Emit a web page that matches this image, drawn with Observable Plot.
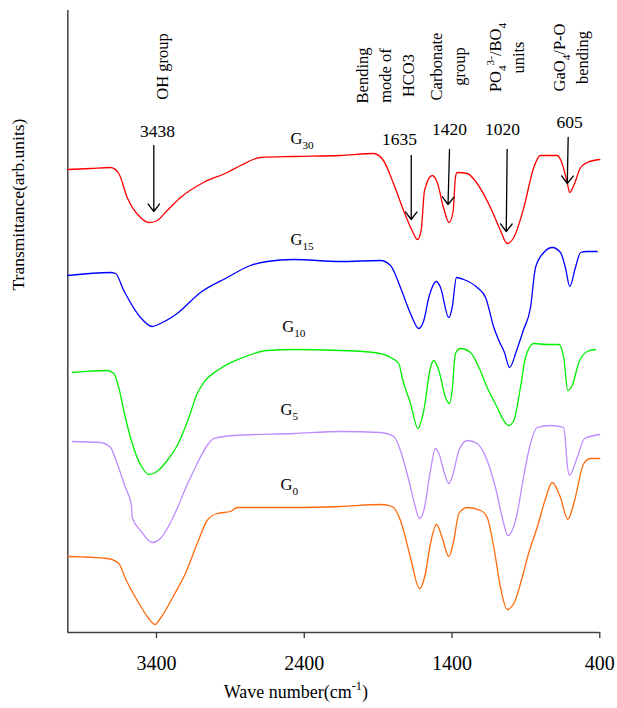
<!DOCTYPE html>
<html>
<head>
<meta charset="utf-8">
<script src="https://cdn.jsdelivr.net/npm/d3@7"></script>
<script src="https://cdn.jsdelivr.net/npm/@observablehq/plot@0.6"></script>
<style>
  html, body { margin: 0; padding: 0; background: white; }
</style>
</head>
<body>
<div id="chart"></div>
<script>
// ---- data (wavenumber cm^-1, transmittance a.u.) ----
const seriesNames = ["G30", "G15", "G10", "G5", "G0"];
const seriesColors = ["#ff0000", "#0000ff", "#00ee00", "#bf8cff", "#ff6a0e"];
const xTicks = [3400, 2400, 1400, 400];

const g30 = [[4000,463],[3846,464],[3711,465],[3655,459],[3598,435],[3508,415],[3452,410],[3407,411],[3327,422],[3237,435],[3082,450],[2921,460],[2831,467],[2696,475],[2473,476],[2155,477],[1931,479],[1864,472],[1796,449],[1728,422],[1670,402],[1634,393],[1609,402],[1586,442],[1534,457],[1500,450],[1458,425],[1420,410],[1392,422],[1377,455],[1365,460],[1297,459],[1230,449],[1140,425],[1072,402],[1027,389],[982,395],[914,425],[847,465],[802,477],[688,477],[655,469],[621,450],[603,440],[576,447],[530,465],[485,470],[400,473]];
const g15 = [[4000,357],[3711,360],[3677,359],[3621,342],[3508,315],[3429,306],[3374,309],[3260,319],[3102,340],[2921,355],[2764,367],[2651,371],[2473,373],[2155,371],[1884,372],[1816,367],[1749,345],[1681,319],[1625,304],[1591,312],[1557,335],[1505,351],[1478,345],[1422,315],[1399,325],[1370,355],[1320,353],[1230,345],[1173,335],[1117,305],[1083,292],[1045,280],[1011,265],[963,282],[918,302],[869,325],[835,365],[779,380],[722,385],[666,380],[633,365],[603,346],[565,365],[530,380],[485,381],[418,381]];
const g10 = [[3970,260],[3733,262],[3689,259],[3655,245],[3621,222],[3576,195],[3497,165],[3452,158],[3407,160],[3327,172],[3249,190],[3181,215],[3124,239],[3080,250],[2967,264],[2831,274],[2651,282],[2471,283],[2155,282],[1929,280],[1816,275],[1760,269],[1738,255],[1681,229],[1631,204],[1591,222],[1546,265],[1523,272],[1489,262],[1444,235],[1417,229],[1399,242],[1377,279],[1343,284],[1275,280],[1230,269],[1162,245],[1094,225],[1050,212],[1016,207],[982,212],[937,245],[903,275],[847,289],[756,288],[677,288],[644,275],[617,242],[587,247],[542,270],[485,281],[429,283]];
const g5 = [[3970,191],[3779,190],[3711,185],[3666,169],[3610,145],[3569,127],[3564,115],[3508,102],[3429,90],[3374,94],[3260,124],[3204,144],[3147,162],[3057,187],[3012,194],[2877,197],[2471,199],[2155,201],[1884,200],[1794,196],[1749,182],[1692,152],[1647,125],[1622,114],[1591,122],[1546,162],[1512,184],[1489,179],[1451,159],[1422,149],[1392,159],[1354,182],[1297,192],[1230,189],[1162,172],[1106,145],[1050,109],[1023,97],[959,119],[918,154],[869,189],[824,205],[733,207],[644,205],[633,192],[621,169],[605,157],[553,175],[503,194],[400,198]];
const g0 = [[4000,76],[3733,74],[3655,69],[3610,54],[3530,32],[3452,14],[3411,8],[3374,14],[3283,37],[3204,59],[3124,89],[3057,112],[2989,119],[2899,121],[2854,125],[2471,125],[2155,126],[1884,128],[1805,126],[1749,112],[1681,75],[1620,44],[1580,59],[1546,89],[1505,108],[1467,95],[1422,76],[1388,92],[1354,119],[1297,125],[1207,122],[1162,115],[1117,85],[1072,45],[1027,23],[982,29],[925,55],[880,80],[824,105],[767,134],[722,150],[666,135],[617,113],[576,129],[508,169],[463,174],[400,174]];

// series labels
const gLabels = ["G_{30}", "G_{15}", "G_{10}", "G_{5}", "G_{0}"];
const gLabelW = [2493, 2493, 2549, 2560, 2560];
const gLabelT = [494, 393, 306, 223, 148];

// peak annotations
const peakLabels = ["3438", "1635", "1420", "1020", "605"];
const peakLabelW = [3393, 1756, 1417, 1059, 605];
const peakLabelT = [501, 493, 503, 503, 510];
const arrowW1 = [3418, 1676, 1417, 1027, 614];
const arrowW2 = [3418, 1676, 1427, 1033, 620];
const arrowT1 = [487, 477, 483, 483, 495];
const arrowT2 = [421, 413, 428, 401, 449];

// band assignments
const groupLabels = ["OH group", "Bending\nmode of\nHCO3", "Carbonate\ngroup", "PO_{4}^{3-}/BO_{4}\nunits", "GaO_{4}/P-O\nbending"];
const groupW = [3373, 1864, 1441, 1038, 608];
const groupT = [566, 557, 566, 575, 575];

const yLabel = "Transmittance(arb.units)";
const xLabel = "Wave number(cm^{-1})";

// ---- build tables ----
const allSeries = [g30, g15, g10, g5, g0];
const spectra = allSeries.flatMap((s, i) => s.map(([w, t]) => ({series: seriesNames[i], w, t})));
const gTable = gLabels.map((label, i) => ({label, w: gLabelW[i], t: gLabelT[i]}));
const peakTable = peakLabels.map((label, i) => ({label, w: peakLabelW[i], t: peakLabelT[i]}));
const arrowTable = arrowW1.map((w1, i) => ({w1, w2: arrowW2[i], t1: arrowT1[i], t2: arrowT2[i]}));
const groupTable = groupLabels.map((label, i) => ({label, w: groupW[i], t: groupT[i]}));

const serif = "'Liberation Serif','Times New Roman',Times,serif";

const plot = Plot.plot({
  width: 617,
  height: 708,
  marginLeft: 67.3,
  marginRight: 17.7,
  marginTop: 10,
  marginBottom: 76,
  x: {domain: [4000, 400], axis: null},
  y: {domain: [0, 622], axis: null},
  color: {domain: seriesNames, range: seriesColors},
  style: {fontFamily: serif, background: "white", color: "black", overflow: "visible"},
  marks: [
    Plot.axisX({ticks: xTicks, tickSize: 6, tickPadding: 17, fontSize: 20, tickFormat: d => String(d), stroke: "#333", strokeWidth: 1.3, label: null}),
    Plot.ruleY([0], {stroke: "#404040", strokeWidth: 1.5}),
    Plot.ruleX([4000], {stroke: "#404040", strokeWidth: 1.5}),
    Plot.line(spectra, {x: "w", y: "t", z: "series", stroke: "series", strokeWidth: 1.3, curve: "monotone-x"}),
    Plot.arrow(arrowTable, {x1: "w1", y1: "t1", x2: "w2", y2: "t2", stroke: "black", strokeWidth: 1.3, headLength: 11, headAngle: 75}),
    Plot.text(peakTable, {x: "w", y: "t", text: "label", fontSize: 17.5, fill: "black"}),
    Plot.text(groupTable, {x: "w", y: "t", text: "label", fontSize: 16.5, rotate: -90, lineHeight: 1.4, fill: "black"}),
    Plot.text(gTable, {x: "w", y: "t", text: "label", fontSize: 16.5, textAnchor: "start", fill: "black"}),
    Plot.text([yLabel], {frameAnchor: "left", dx: -49, dy: -31, rotate: -90, fontSize: 17.5, fill: "black"}),
    Plot.text([xLabel], {frameAnchor: "bottom", dx: -38, dy: 65, fontSize: 18, fill: "black"})
  ]
});

document.getElementById("chart").appendChild(plot);

// ---- rich text: _{sub} and ^{sup} ----
function richText(svg) {
  const NS = "http://www.w3.org/2000/svg";
  svg.querySelectorAll("text").forEach(t => {
    const spans = t.querySelectorAll("tspan");
    const targets = spans.length ? [...spans] : [t];
    targets.forEach(el => {
      const s = el.textContent;
      if (!/[_^]\{/.test(s)) return;
      const fs = parseFloat(getComputedStyle(el).fontSize) || 16;
      el.textContent = "";
      const re = /([_^])\{([^}]*)\}/g;
      let last = 0, cur = 0, m;
      const add = (txt, off, small) => {
        const ts = document.createElementNS(NS, "tspan");
        const dy = off - cur;
        if (dy) ts.setAttribute("dy", dy.toFixed(2));
        if (small) ts.setAttribute("font-size", (fs * 0.68).toFixed(2));
        ts.textContent = txt;
        el.appendChild(ts);
        cur = off;
      };
      while ((m = re.exec(s))) {
        if (m.index > last) add(s.slice(last, m.index), 0, false);
        add(m[2], m[1] === "_" ? fs * 0.3 : -fs * 0.42, true);
        last = re.lastIndex;
      }
      if (last < s.length) add(s.slice(last), 0, false);
      if (cur) add("\u200B", 0, false);
    });
  });
}
richText(plot);
</script>
</body>
</html>
